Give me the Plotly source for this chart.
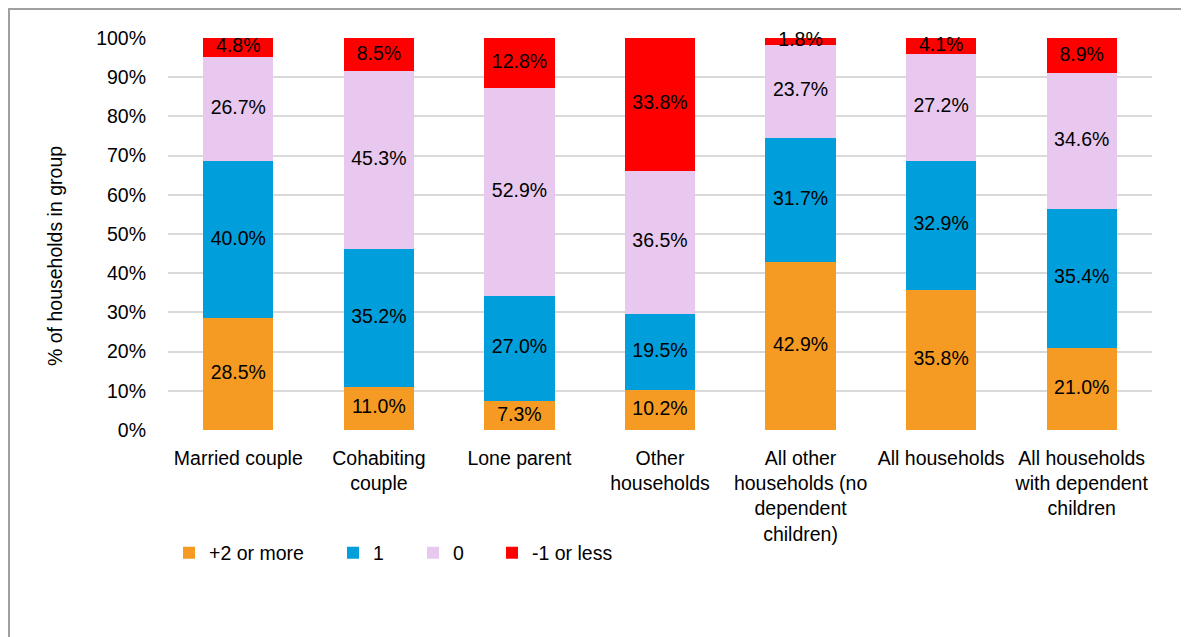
import plotly.graph_objects as go

categories = ["Married couple", "Cohabiting<br>couple", "Lone parent", "Other<br>households",
              "All other<br>households (no<br>dependent<br>children)", "All households",
              "All households<br>with dependent<br>children"]
series_names = ["+2 or more", "1", "0", "-1 or less"]
plus2 = [28.5, 11.0, 7.3, 10.2, 42.9, 35.8, 21.0]
one = [40.0, 35.2, 27.0, 19.5, 31.7, 32.9, 35.4]
zero = [26.7, 45.3, 52.9, 36.5, 23.7, 27.2, 34.6]
minus1 = [4.8, 8.5, 12.8, 33.8, 1.8, 4.1, 8.9]
colors = ["#F59B23", "#009FDB", "#E8C8EE", "#FF0000"]
tick_vals = [0, 10, 20, 30, 40, 50, 60, 70, 80, 90, 100]
tick_text = [f"{v}%" for v in tick_vals]

FONT = "Liberation Sans, Arial, sans-serif"
FS = 19.5

# page body has an 8px margin; work in figure pixels
OFF = 8
W, H = 1189 - OFF, 637 - OFF
L, T = 168 - OFF, 38 - OFF
R = W - (1152 - OFF)
B = H - (430 - OFF)
pw, ph = W - L - R, H - T - B

def px_x(x):
    return (x - OFF - L) / pw

def px_y(y):
    return (H - B - (y - OFF)) / ph

fig = go.Figure()
legend_px = [183, 347, 427, 506]
legend_names = ["legend", "legend2", "legend3", "legend4"]
series = [plus2, one, zero, minus1]
base = [0.0] * len(categories)
for name, vals, col, lg in zip(series_names, series, colors, legend_names):
    fig.add_trace(go.Bar(
        x=categories, y=vals, name=name, marker=dict(color=col, line=dict(width=0)),
        legend=lg, hoverinfo="skip",
    ))
    mids = [b + v / 2 for b, v in zip(base, vals)]
    fig.add_trace(go.Scatter(
        x=categories, y=mids, mode="text", text=[f"{v:.1f}%" for v in vals],
        textposition="middle center", cliponaxis=False, showlegend=False, hoverinfo="skip",
        textfont=dict(family=FONT, size=FS, color="#000000"),
    ))
    base = [b + v for b, v in zip(base, vals)]

layout_legends = {}
for lg, xp in zip(legend_names, legend_px):
    layout_legends[lg] = dict(
        x=px_x(xp - 14), y=px_y(553), xanchor="left", yanchor="middle",
        orientation="h", bgcolor="rgba(0,0,0,0)",
        font=dict(family=FONT, size=FS, color="#000000"),
        itemwidth=30, tracegroupgap=0,
    )

fig.update_layout(
    barmode="stack",
    bargap=0.5,
    width=W, height=H,
    margin=dict(l=L, r=R, t=T, b=B, autoexpand=False),
    paper_bgcolor="white", plot_bgcolor="white",
    font=dict(family=FONT, size=FS, color="#000000"),
    showlegend=True,
    xaxis=dict(showgrid=False, showline=False, ticks="", tickfont=dict(family=FONT, size=FS),
               tickangle=0, automargin=False, ticklabelstandoff=14),
    yaxis=dict(range=[0, 100], tickvals=tick_vals, ticktext=tick_text,
               showgrid=True, gridcolor="#D9D9D9", gridwidth=2, zeroline=False,
               showline=False, ticks="", ticklabelstandoff=21,
               tickfont=dict(family=FONT, size=FS), automargin=False),
    annotations=[dict(text="% of households in group", textangle=-90, xref="paper", yref="paper",
                      x=px_x(55), y=px_y(256), showarrow=False,
                      font=dict(family=FONT, size=FS, color="#000000"),
                      xanchor="center", yanchor="middle")],
    shapes=[dict(type="rect", xref="paper", yref="paper",
                 x0=px_x(OFF + 1), x1=px_x(1183), y0=px_y(660), y1=px_y(OFF + 1),
                 line=dict(color="#A0A0A0", width=2), fillcolor="rgba(0,0,0,0)", layer="below")],
    **layout_legends,
)

fig.write_html("out.html")
